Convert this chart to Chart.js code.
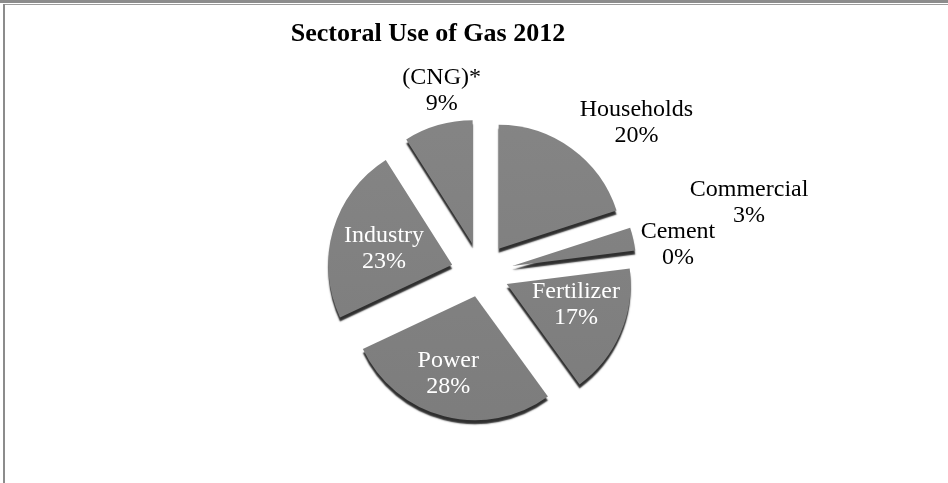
<!DOCTYPE html>
<html>
<head>
<meta charset="utf-8">
<title>Sectoral Use of Gas 2012</title>
<script src="https://cdn.jsdelivr.net/npm/chart.js@4.4.0/dist/chart.umd.min.js"></script>
<style>
  html, body { margin: 0; padding: 0; background: #fff; }
  #frame { position: relative; width: 948px; height: 483px; overflow: hidden; }
  #frame .band { position: absolute; left: 0; top: 0; width: 948px; height: 3px; background: #8c8c8c; }
  #frame .rule { position: absolute; left: 3px; top: 4px; right: 0; height: 1px; background: #9c9c9c; }
  #frame .side { position: absolute; left: 3px; top: 4px; bottom: 0; width: 2px; background: #8c8c8c; }
  #gasChart { position: absolute; left: 0; top: 0; }
</style>
</head>
<body>
<div id="frame">
  <canvas id="gasChart" width="948" height="483"></canvas>
  <div class="band"></div>
  <div class="rule"></div>
  <div class="side"></div>
</div>
<script>
var chartTitle = "Sectoral Use of Gas 2012";
var sectors = ["Households", "Commercial", "Cement", "Fertilizer", "Power", "Industry", "(CNG)*"];
var shares = [20, 3, 0, 17, 28, 23, 9];

var serif = '"Liberation Serif", "Times New Roman", serif';

// how far each slice is pulled out of the pie
var pullOut = [30, 32, 30, 28, 24, 30, 30];
// label spot: distance from the centre and a small turn (degrees) off the slice middle
var labelSpot = [
  {dist: 216, turn: 10,  color: "#000"},
  {dist: 277, turn: -2,  color: "#000"},
  {dist: 199, turn: -1,  color: "#000"},
  {dist: 100, turn: -5,  color: "#fff"},
  {dist: 106, turn: 3.6, color: "#fff"},
  {dist: 100, turn: -2,  color: "#fff"},
  {dist: 186, turn: 4,   color: "#000"}
];

// slice face: a little lighter towards the top
function faceColor(context) {
  var chart = context.chart;
  var area = chart.chartArea;
  if (!area) return "#7f7f7f";
  var g = chart.ctx.createLinearGradient(0, area.top, 0, area.bottom);
  g.addColorStop(0, "#878787");
  g.addColorStop(1, "#7a7a7a");
  return g;
}

// draws the slices pulled apart, with a dark rim underneath each one
var explode = {
  id: "explode",
  beforeDatasetDraw: function(chart, args, opts) {
    var ctx = chart.ctx;
    ctx.save();
    ctx.shadowColor = opts.rimColor;
    ctx.shadowOffsetX = 0;
    ctx.shadowOffsetY = opts.rimDepth;
    ctx.shadowBlur = opts.rimBlur;
    args.meta.data.forEach(function(arc, i) {
      var mid = (arc.startAngle + arc.endAngle) / 2;
      var d = opts.distance[i] || 0;
      ctx.save();
      ctx.translate(Math.cos(mid) * d, Math.sin(mid) * d);
      arc.draw(ctx);
      ctx.restore();
    });
    ctx.restore();
    return false;
  }
};

var sliceLabels = {
  id: "sliceLabels",
  afterDatasetsDraw: function(chart) {
    var ctx = chart.ctx;
    var arcs = chart.getDatasetMeta(0).data;
    ctx.save();
    ctx.font = "24px " + serif;
    ctx.textAlign = "center";
    ctx.textBaseline = "middle";
    arcs.forEach(function(arc, i) {
      var spot = labelSpot[i];
      var a = (arc.startAngle + arc.endAngle) / 2 + spot.turn * Math.PI / 180;
      var x = arc.x + Math.cos(a) * spot.dist;
      var y = arc.y + Math.sin(a) * spot.dist;
      ctx.fillStyle = spot.color;
      ctx.fillText(sectors[i], x, y - 13);
      ctx.fillText(shares[i] + "%", x, y + 13);
    });
    ctx.restore();
  }
};

var topTitle = {
  id: "topTitle",
  afterDraw: function(chart, args, opts) {
    var ctx = chart.ctx;
    ctx.save();
    ctx.font = "bold 26px " + serif;
    ctx.fillStyle = "#000";
    ctx.textAlign = "center";
    ctx.textBaseline = "alphabetic";
    ctx.fillText(chartTitle, opts.x, opts.y);
    ctx.restore();
  }
};

new Chart("gasChart", {
  type: "pie",
  data: {
    labels: sectors,
    datasets: [{
      data: shares,
      backgroundColor: faceColor,
      borderWidth: 0,
      radius: 124
    }]
  },
  options: {
    responsive: false,
    animation: false,
    events: [],
    layout: {padding: {left: 14, right: 0, top: 63, bottom: 0}},
    plugins: {
      legend: {display: false},
      tooltip: {enabled: false},
      title: {display: false},
      explode: {distance: pullOut, rimColor: "rgba(35,35,35,0.95)", rimDepth: 4, rimBlur: 1.5},
      topTitle: {x: 428, y: 41}
    }
  },
  plugins: [explode, sliceLabels, topTitle]
});
</script>
</body>
</html>
